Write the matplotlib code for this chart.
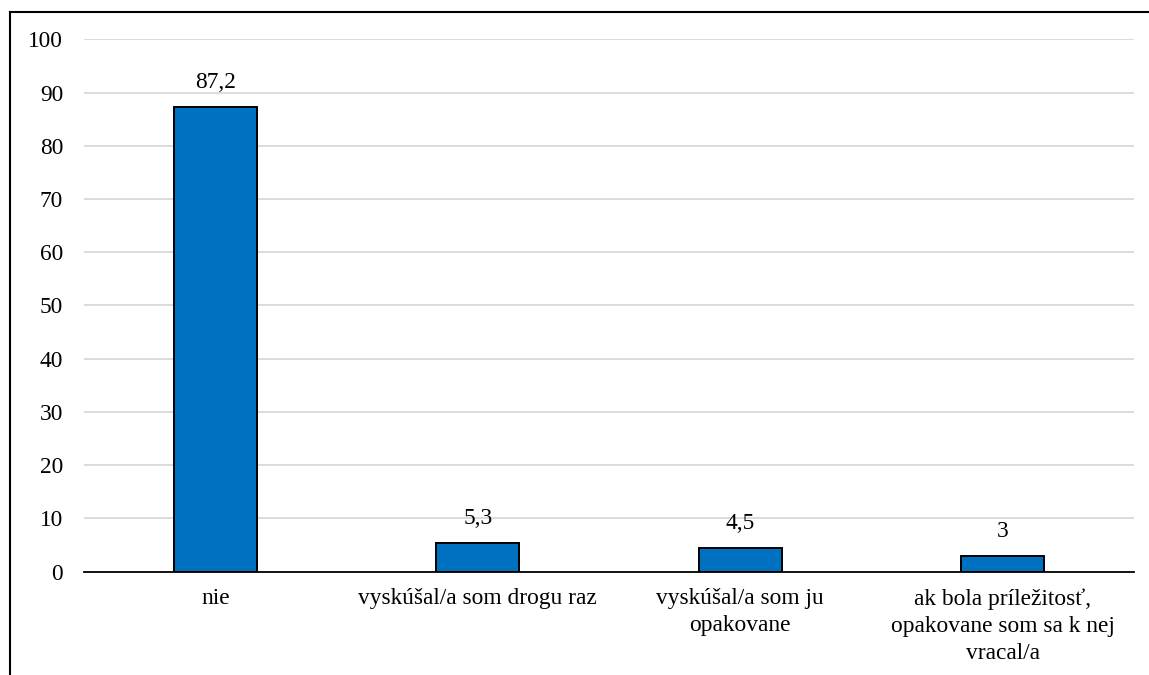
import matplotlib
matplotlib.use("Agg")
import matplotlib.pyplot as plt
from matplotlib.lines import Line2D

categories = ["nie", "vyskúšal/a som drogu raz", "vyskúšal/a som ju\nopakovane",
              "ak bola príležitosť,\nopakovane som sa k nej\nvracal/a"]
values = [87.2, 5.3, 4.5, 3]
value_labels = ["87,2", "5,3", "4,5", "3"]
yticks = [0, 10, 20, 30, 40, 50, 60, 70, 80, 90, 100]

plt.rcParams['font.family'] = ['Liberation Serif', 'DejaVu Serif']
FS = 16.8

fig = plt.figure(figsize=(11.49, 6.75), dpi=100)
ax = fig.add_axes([0.0731, 0.1533, 0.9138, 0.7885])

x = list(range(len(categories)))
ax.bar(x, values, width=0.317, color="#0070C0", edgecolor="black", linewidth=1.4, zorder=3)
for xi, v, lab in zip(x, values, value_labels):
    ax.annotate(lab, (xi, v), xytext=(0, 13.7), textcoords="offset points",
                ha="center", va="baseline", fontsize=FS, color="#000000")

ax.set_xlim(-0.5, 3.5)
ax.set_ylim(0, 100)
ax.set_yticks(yticks)
ax.set_yticklabels([str(t) for t in yticks], fontsize=FS)
ax.set_xticks(x)
ax.set_xticklabels(categories, fontsize=FS, linespacing=1.38)
ax.tick_params(axis="both", length=0)
ax.tick_params(axis="y", pad=15)
ax.tick_params(axis="x", pad=12)
ax.yaxis.grid(True, color="#d9d9d9", linewidth=1.3, zorder=0)
ax.set_axisbelow(True)
for s in ["top", "right", "left"]:
    ax.spines[s].set_visible(False)
ax.spines["bottom"].set_color("black")
ax.spines["bottom"].set_linewidth(1.3)
ax.spines["bottom"].set_zorder(4)

# outer frame lines (top and left)
y_top = 1 - 12 / 675
x_left = 10 / 1149
fig.add_artist(Line2D([x_left, 1.0], [y_top, y_top], transform=fig.transFigure, color="black", linewidth=1.5))
fig.add_artist(Line2D([x_left, x_left], [0.0, y_top], transform=fig.transFigure, color="black", linewidth=1.5))

fig.savefig("out.png", dpi=100)
